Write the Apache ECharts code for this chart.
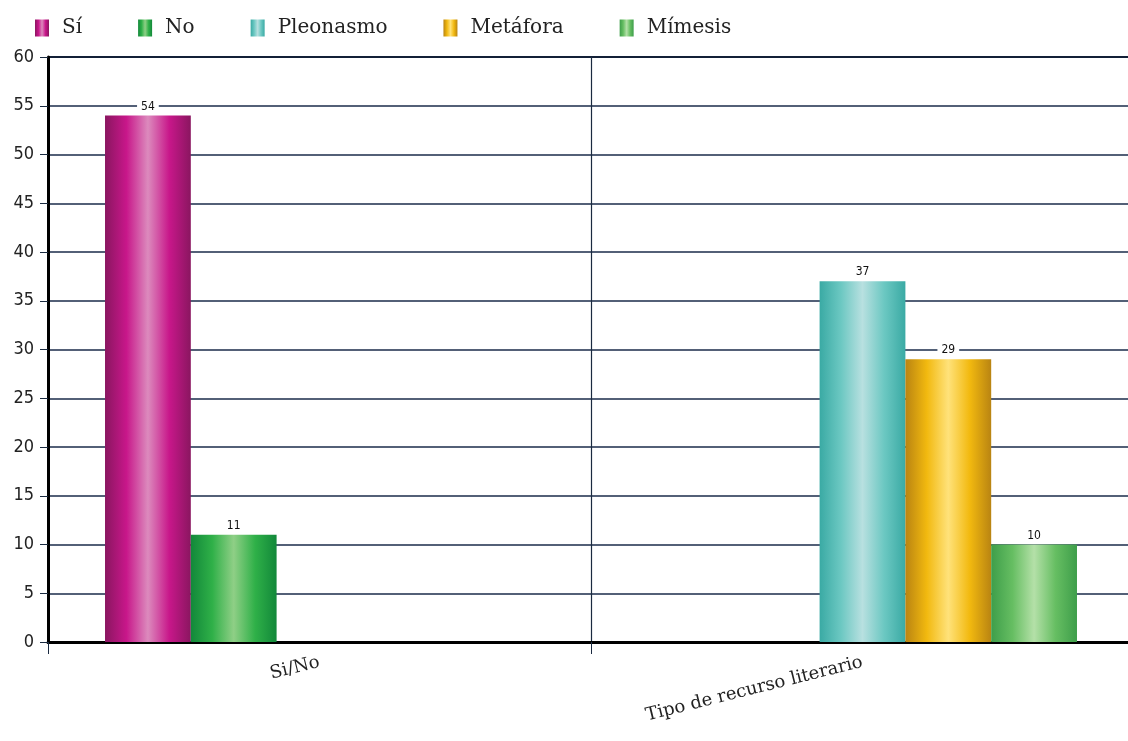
<!DOCTYPE html>
<html>
<head>
<meta charset="utf-8">
<script src="https://cdn.jsdelivr.net/npm/echarts@6/dist/echarts.min.js"></script>
<style>
  html, body { margin: 0; padding: 0; background: #fff; }
  #chart { width: 1128px; height: 741px; }
</style>
</head>
<body>
<div id="chart"></div>
<script>
const categories = ['Si/No', 'Tipo de recurso literario']
const seriesNames = ['Sí', 'No', 'Pleonasmo', 'Metáfora', 'Mímesis']
const siValues = [54, null]
const noValues = [11, null]
const pleonasmoValues = [null, 37]
const metaforaValues = [null, 29]
const mimesisValues = [null, 10]

// edge, base, highlight
const palette = [
  ['#8a1660', '#c8178a', '#dc8abd'],
  ['#12883a', '#2fb048', '#8fcf86'],
  ['#3aaaa4', '#6cc8c2', '#b8e0e0'],
  ['#b98412', '#f2b90f', '#ffe27a'],
  ['#3e9e4a', '#66be62', '#b4e0a8']
]

function cylinder (c) {
  return new echarts.graphic.LinearGradient(0, 0, 1, 0, [
    { offset: 0, color: c[0] },
    { offset: 0.25, color: c[1] },
    { offset: 0.5, color: c[2] },
    { offset: 0.75, color: c[1] },
    { offset: 1, color: c[0] }
  ])
}

const allValues = [siValues, noValues, pleonasmoValues, metaforaValues, mimesisValues]

const chart = echarts.init(document.getElementById('chart'))

chart.setOption({
  animation: false,
  legend: {
    left: 30,
    top: 13,
    icon: 'rect',
    itemWidth: 14,
    itemHeight: 17,
    itemGap: 56,
    textStyle: {
      fontFamily: 'DejaVu Serif',
      fontSize: 20,
      color: '#222',
      padding: [0, 0, 0, 8]
    },
    data: seriesNames
  },
  grid: {
    top: 57,
    left: 48,
    right: -6,
    bottom: 99,
    outerBoundsMode: 'none'
  },
  xAxis: {
    type: 'category',
    data: categories,
    axisLine: { lineStyle: { color: '#000', width: 3 } },
    axisTick: { show: true, length: 12, lineStyle: { color: '#1a2a40', width: 1 } },
    splitLine: { show: true, lineStyle: { color: '#1a2a40', width: 1.2 } },
    axisLabel: {
      rotate: 14,
      margin: 20,
      fontFamily: 'DejaVu Serif',
      fontSize: 18,
      color: '#222'
    }
  },
  yAxis: {
    type: 'value',
    min: 0,
    max: 60,
    interval: 5,
    axisLine: { show: true, lineStyle: { color: '#000', width: 3 } },
    axisTick: { show: true, length: 8, lineStyle: { color: '#1a2a40' } },
    splitLine: { lineStyle: { color: '#1a2b4a', width: 1.5 } },
    axisLabel: {
      fontFamily: 'DejaVu Sans Condensed',
      fontSize: 18,
      color: '#222',
      margin: 14
    }
  },
  graphic: [{
    type: 'line',
    shape: { x1: 48, y1: 57, x2: 1128, y2: 57 },
    style: { stroke: '#000', lineWidth: 2 }
  }],
  series: seriesNames.map((name, i) => ({
    name: name,
    type: 'bar',
    barGap: '0%',
    barCategoryGap: '21%',
    data: allValues[i],
    itemStyle: { color: cylinder(palette[i]) },
    label: {
      show: true,
      position: 'top',
      distance: 2,
      fontFamily: 'DejaVu Sans Condensed',
      fontSize: 12,
      color: '#111',
      backgroundColor: '#fff',
      padding: [1, 4]
    }
  }))
})
</script>
</body>
</html>
